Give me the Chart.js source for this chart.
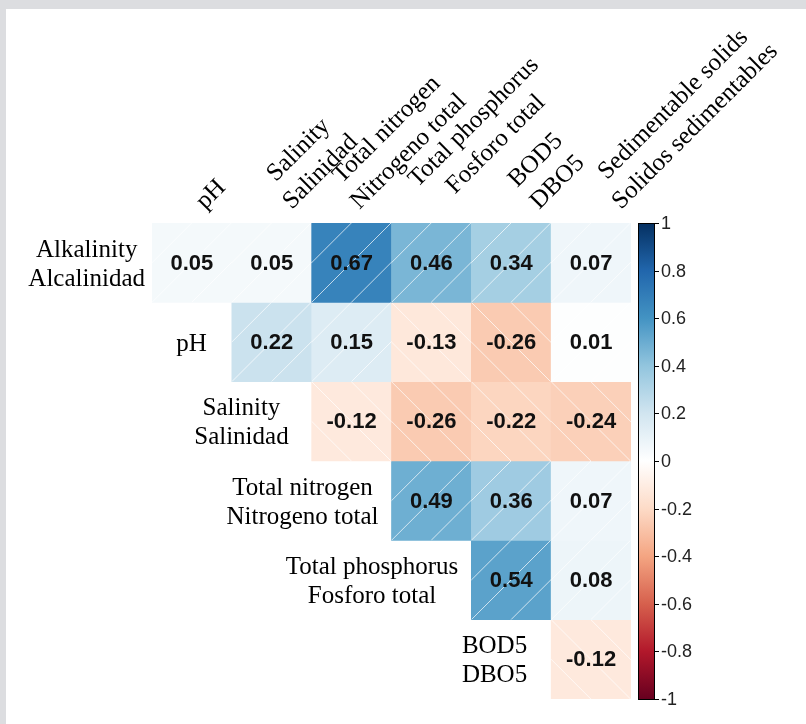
<!DOCTYPE html>
<html>
<head>
<meta charset="utf-8">
<script src="https://cdn.jsdelivr.net/npm/chart.js@4.4.1/dist/chart.umd.min.js"></script>
<style>
  html, body { margin: 0; padding: 0; background: #dcdde0; }
  #wrap { position: absolute; left: 6px; top: 9px; width: 800px; height: 715px; background: #fff; }
</style>
</head>
<body>
<div id="wrap"><canvas id="corr" width="800" height="715"></canvas></div>
<script>
// etiquetas (colunas em cima, linhas a esquerda)
const colunas = [
  ['pH'],
  ['Salinity', 'Salinidad'],
  ['Total nitrogen', 'Nitrogeno total'],
  ['Total phosphorus', 'Fosforo total'],
  ['BOD5', 'DBO5'],
  ['Sedimentable solids', 'Solidos sedimentables']
];
const linhas = [
  ['Alkalinity', 'Alcalinidad'],
  ['pH'],
  ['Salinity', 'Salinidad'],
  ['Total nitrogen', 'Nitrogeno total'],
  ['Total phosphorus', 'Fosforo total'],
  ['BOD5', 'DBO5']
];

// correlacoes (triangulo superior), null = vazio
const corAlcalinidade = [0.05, 0.05, 0.67, 0.46, 0.34, 0.07];
const corPH = [null, 0.22, 0.15, -0.13, -0.26, 0.01];
const corSalinidade = [null, null, -0.12, -0.26, -0.22, -0.24];
const corNitrogenio = [null, null, null, 0.49, 0.36, 0.07];
const corFosforo = [null, null, null, null, 0.54, 0.08];
const corDBO = [null, null, null, null, null, -0.12];
const matriz = [corAlcalinidade, corPH, corSalinidade, corNitrogenio, corFosforo, corDBO];

// escala de cores
const ticksBarra = [1, 0.8, 0.6, 0.4, 0.2, 0, -0.2, -0.4, -0.6, -0.8, -1];
const paleta = ['#67001F', '#B2182B', '#D6604D', '#F4A582', '#FDDBC7', '#FFFFFF',
  '#D1E5F0', '#92C5DE', '#4393C3', '#2166AC', '#053061'];

// ajustes finos de posicao dos rotulos (px)
const ajusteColunas = [5, 12, 0, 0, 20, 22];
const ajusteLinhas = [6, -12, -10, 0, 0, -11];

function hexRgb(h) {
  return [parseInt(h.slice(1, 3), 16), parseInt(h.slice(3, 5), 16), parseInt(h.slice(5, 7), 16)];
}
function corPara(v) {
  const t = (v + 1) / 2 * 10;
  const i = Math.min(9, Math.floor(t));
  const f = t - i;
  const a = hexRgb(paleta[i]), b = hexRgb(paleta[i + 1]);
  const c = a.map((x, k) => Math.round(x + (b[k] - x) * f));
  return `rgb(${c[0]},${c[1]},${c[2]})`;
}

const datasets = matriz.map((linha, r) => ({
  label: linhas[r].join(' '),
  data: linha.map(v => v === null ? null : [r, r + 1]),
  backgroundColor: linha.map(v => v === null ? 'rgba(0,0,0,0)' : corPara(v)),
  borderWidth: 0,
  grouped: false,
  barPercentage: 1,
  categoryPercentage: 1
}));

const serif = '"Liberation Serif", "Times New Roman", serif';
const sans = '"Liberation Sans", Arial, sans-serif';

const desenho = {
  id: 'desenho',
  afterDatasetsDraw(chart) {
    const ctx = chart.ctx;
    const xs = chart.scales.x, ys = chart.scales.y, cb = chart.scales.cb;
    const area = chart.chartArea;
    const celW = xs.getPixelForValue(1) - xs.getPixelForValue(0);

    // hachuras e valores
    matriz.forEach((linha, r) => {
      const meta = chart.getDatasetMeta(r);
      linha.forEach((v, c) => {
        if (v === null) return;
        const el = meta.data[c];
        const p = el.getProps(['x', 'y', 'base', 'width'], true);
        const left = p.x - p.width / 2, right = p.x + p.width / 2;
        const top = Math.min(p.y, p.base), bottom = Math.max(p.y, p.base);
        const h = bottom - top;
        ctx.save();
        ctx.beginPath();
        ctx.rect(left, top, right - left, h);
        ctx.clip();
        ctx.strokeStyle = 'rgba(255,255,255,0.7)';
        ctx.lineWidth = 1;
        ctx.beginPath();
        [0.5, 1, 1.5].forEach(k => {
          if (v >= 0) {
            const s = k * h;
            ctx.moveTo(left + s - h, bottom);
            ctx.lineTo(left + s, top);
          } else {
            const d = (k - 1) * h;
            ctx.moveTo(left + d, top);
            ctx.lineTo(left + d + h, bottom);
          }
        });
        ctx.stroke();
        ctx.restore();

        ctx.save();
        ctx.fillStyle = '#111';
        ctx.font = 'bold 22px ' + sans;
        ctx.textAlign = 'center';
        ctx.textBaseline = 'middle';
        ctx.fillText(v.toFixed(2), p.x, (top + bottom) / 2 + 1);
        ctx.restore();
      });
    });

    // rotulos das linhas
    ctx.save();
    ctx.fillStyle = '#000';
    ctx.font = '25px ' + serif;
    ctx.textBaseline = 'middle';
    ctx.textAlign = 'center';
    linhas.forEach((txt, r) => {
      const cellLeft = xs.getPixelForValue(r) - celW / 2;
      const larg = Math.max(...txt.map(t => ctx.measureText(t).width));
      const cx = cellLeft - 13 - larg / 2 + ajusteLinhas[r];
      const cy = ys.getPixelForValue(r + 0.5) + 2;
      txt.forEach((t, i) => {
        ctx.fillText(t, cx, cy + (i - (txt.length - 1) / 2) * 29);
      });
    });
    ctx.restore();

    // rotulos das colunas (45 graus)
    ctx.save();
    ctx.fillStyle = '#000';
    ctx.font = '25px ' + serif;
    ctx.textBaseline = 'alphabetic';
    ctx.textAlign = 'left';
    colunas.forEach((txt, c) => {
      const ax = xs.getPixelForValue(c) + 8 + ajusteColunas[c];
      const ay = area.top - 13;
      const larg = Math.max(...txt.map(t => ctx.measureText(t).width));
      ctx.save();
      ctx.translate(ax, ay);
      ctx.rotate(-Math.PI / 4);
      txt.forEach((t, i) => {
        const w = ctx.measureText(t).width;
        ctx.fillText(t, (larg - w) / 2, -(txt.length - 1 - i) * 31);
      });
      ctx.restore();
    });
    ctx.restore();

    // barra de cores
    const bx = area.right + 7, bw = 17;
    const yTop = cb.getPixelForValue(1), yBot = cb.getPixelForValue(-1);
    const grad = ctx.createLinearGradient(0, yBot, 0, yTop);
    paleta.forEach((cor, i) => grad.addColorStop(i / (paleta.length - 1), cor));
    ctx.save();
    ctx.fillStyle = grad;
    ctx.fillRect(bx, yTop, bw, yBot - yTop);
    ctx.strokeStyle = '#000';
    ctx.lineWidth = 1;
    ctx.strokeRect(bx + 0.5, yTop + 0.5, bw - 1, yBot - yTop);
    ctx.font = '18px ' + sans;
    ctx.fillStyle = '#222';
    ctx.textAlign = 'left';
    ctx.textBaseline = 'middle';
    ticksBarra.forEach(t => {
      const y = Math.round(cb.getPixelForValue(t)) + 0.5;
      ctx.beginPath();
      ctx.moveTo(bx + bw, y);
      ctx.lineTo(bx + bw + 4, y);
      ctx.stroke();
      ctx.fillText(String(t), bx + bw + 6, y + 1);
    });
    ctx.restore();
  }
};

new Chart(document.getElementById('corr'), {
  type: 'bar',
  data: {
    labels: colunas.map(c => c.join(' ')),
    datasets: datasets
  },
  options: {
    responsive: false,
    animation: false,
    layout: { padding: { left: 146, right: 175, top: 214, bottom: 25 } },
    plugins: { legend: { display: false }, tooltip: { enabled: false } },
    scales: {
      x: { type: 'category', display: false, offset: true },
      y: { type: 'linear', display: false, min: 0, max: 6, reverse: true },
      cb: { type: 'linear', display: false, position: 'right', min: -1, max: 1 }
    }
  },
  plugins: [desenho]
});
</script>
</body>
</html>
